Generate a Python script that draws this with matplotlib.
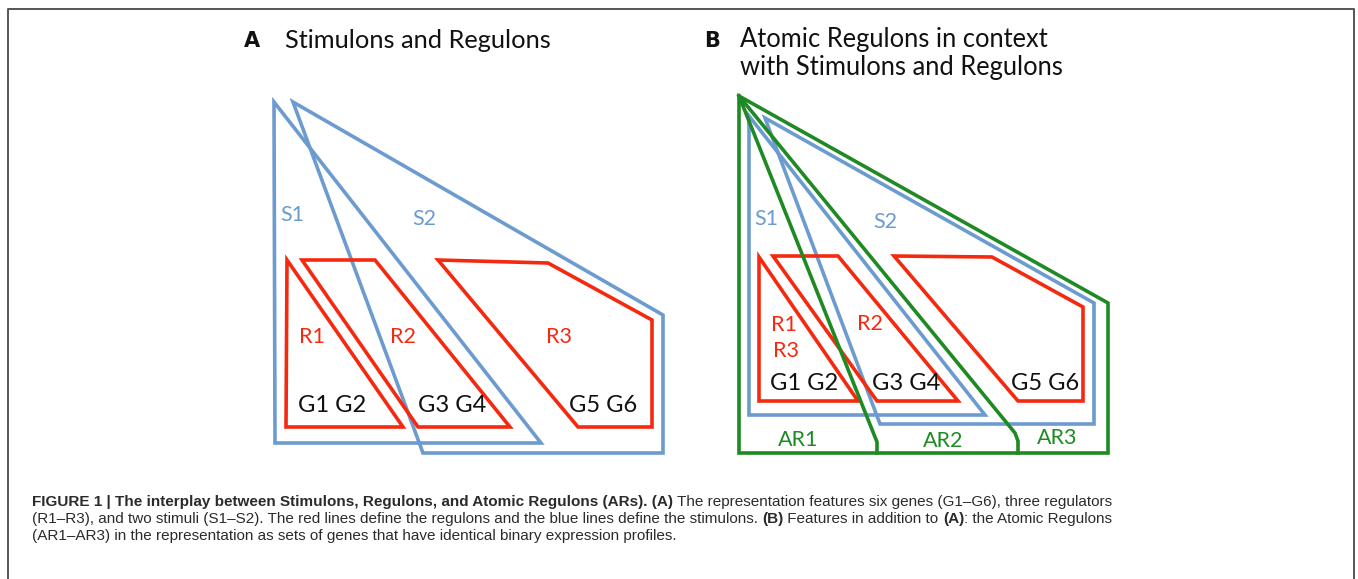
"""Figure 1: stimulons, regulons and atomic regulons drawn as outlined shapes."""

import matplotlib

matplotlib.use("Agg")
import matplotlib.pyplot as plt  # noqa: E402
from matplotlib.patches import Polygon  # noqa: E402

# Colours taken from the figure.
C_BLUE = "#6c9bcf"
C_RED = "#f5290f"
C_GREEN = "#1f8a23"
C_TEXT = "#111111"
C_CAPTION = "#2b2b2b"
C_FRAME = "#555555"

FONT = "Lato"

# Shape outlines, in image pixel coordinates (x right, y down).
# Panel A
A_S1 = [(274, 102), (275, 443), (541, 443)]
A_S2 = [(293, 102), (663, 315), (663, 453), (423, 453)]
A_R1 = [(287, 260), (403, 427), (286, 427)]
A_R2 = [(302, 260), (375, 260), (510, 427), (418, 427)]
A_R3 = [(438, 260), (548, 263), (652, 320), (652, 427), (578, 427)]

# Panel B
B_S1 = [(749, 116), (749, 415), (985, 415)]
B_S2 = [(765, 118), (1094, 303), (1094, 424), (880, 424)]
B_R1 = [(759, 257), (858, 401), (759, 401)]
B_R2 = [(773, 256), (838, 256), (958, 401), (877, 401)]
B_R3 = [(894, 256), (992, 257), (1083, 307), (1083, 401), (1018, 401)]
B_AR_OUTER = [(739, 96), (1108, 303), (1108, 453), (739, 453)]
B_AR_SPLIT1 = [(739, 96), (873, 432), (877, 442), (877, 453)]
B_AR_SPLIT2 = [(739, 96), (1015, 433), (1018, 441), (1018, 453)]

# Labels: (text, x, y, colour)
A_LABELS = [
    ("S1", 292, 215, C_BLUE),
    ("S2", 424, 219, C_BLUE),
    ("R1", 312, 337, C_RED),
    ("R2", 403, 337, C_RED),
    ("R3", 559, 337, C_RED),
    ("G1 G2", 332, 405, C_TEXT),
    ("G3 G4", 452, 405, C_TEXT),
    ("G5 G6", 603, 405, C_TEXT),
]
B_LABELS = [
    ("S1", 766, 219, C_BLUE),
    ("S2", 885, 222, C_BLUE),
    ("R1", 784, 325, C_RED),
    ("R3", 786, 351, C_RED),
    ("R2", 870, 324, C_RED),
    ("G1 G2", 804, 383, C_TEXT),
    ("G3 G4", 906, 383, C_TEXT),
    ("G5 G6", 1045, 383, C_TEXT),
    ("AR1", 798, 440, C_GREEN),
    ("AR2", 943, 441, C_GREEN),
    ("AR3", 1057, 438, C_GREEN),
]

# Caption lines as (text, bold) runs.
CAPTION = [
    [
        ("FIGURE 1 | The interplay between Stimulons, Regulons, and Atomic "
         "Regulons (ARs). (A)", True),
        (" The representation features six genes (G1\u2013G6), three regulators",
         False),
    ],
    [
        ("(R1\u2013R3), and two stimuli (S1\u2013S2). The red lines define the "
         "regulons and the blue lines define the stimulons. ", False),
        ("(B)", True),
        (" Features in addition to ", False),
        ("(A)", True),
        (": the Atomic Regulons", False),
    ],
    [
        ("(AR1\u2013AR3) in the representation as sets of genes that have "
         "identical binary expression profiles.", False),
    ],
]
CAPTION_Y = [502, 519, 536]

W, H = 1358, 579
fig = plt.figure(figsize=(W / 100, H / 100), dpi=100)
ax = fig.add_axes([0, 0, 1, 1])
ax.set_xlim(0, W)
ax.set_ylim(H, 0)
ax.axis("off")


def outline(pts, color, lw=2.6, closed=True):
    if closed:
        ax.add_patch(Polygon(pts, closed=True, fill=False, edgecolor=color,
                             linewidth=lw, joinstyle="miter"))
    else:
        xs, ys = zip(*pts)
        ax.plot(xs, ys, color=color, linewidth=lw, solid_joinstyle="miter")


# frame round the figure (open at the bottom)
ax.plot([8, 8, 1354, 1354], [579, 9, 9, 579], color=C_FRAME, linewidth=1.4)

# Panel A
for poly in (A_S1, A_S2):
    outline(poly, C_BLUE)
for poly in (A_R1, A_R2, A_R3):
    outline(poly, C_RED)

# Panel B: green behind, then blue, then red
outline(B_AR_OUTER, C_GREEN)
outline(B_AR_SPLIT1, C_GREEN, closed=False)
outline(B_AR_SPLIT2, C_GREEN, closed=False)
for poly in (B_S1, B_S2):
    outline(poly, C_BLUE)
for poly in (B_R1, B_R2, B_R3):
    outline(poly, C_RED)

for text, x, y, col in A_LABELS + B_LABELS:
    size = 17 if text.startswith("G") else 15.5
    ax.text(x, y, text, color=col, fontsize=size, family=FONT,
            ha="center", va="center")

# Panel titles
ax.text(252, 41, "A", fontsize=15, fontweight="bold", family="DejaVu Sans",
        ha="center", va="center", color=C_TEXT)
ax.text(285, 40, "Stimulons and Regulons", fontsize=18.3, family=FONT,
        ha="left", va="center", color=C_TEXT)
ax.text(712, 41, "B", fontsize=15, fontweight="bold", family="DejaVu Sans",
        ha="center", va="center", color=C_TEXT)
ax.text(740, 39, "Atomic Regulons in context", fontsize=18.4, family=FONT,
        ha="left", va="center", color=C_TEXT)
ax.text(740, 68, "with Stimulons and Regulons", fontsize=18.4, family=FONT,
        ha="left", va="center", color=C_TEXT)

# Caption, built run by run so bold and regular pieces sit side by side
renderer = fig.canvas.get_renderer()
for runs, y in zip(CAPTION, CAPTION_Y):
    x = 32
    for text, bold in runs:
        t = ax.text(x, y, text, fontsize=11.0, family="Liberation Sans",
                    fontweight="bold" if bold else "normal",
                    ha="left", va="center", color=C_CAPTION)
        bb = t.get_window_extent(renderer)
        x += bb.width  # 1 px per data unit

fig.savefig("out.png", dpi=100)
